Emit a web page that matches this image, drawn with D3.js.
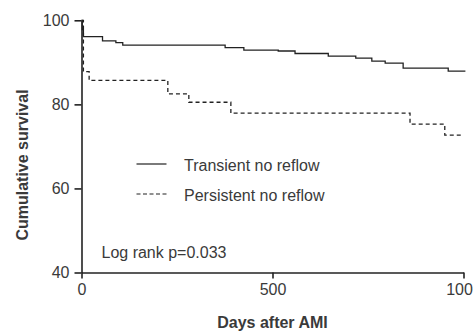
<!DOCTYPE html>
<html>
<head>
<meta charset="utf-8">
<script src="https://cdn.jsdelivr.net/npm/d3@7"></script>
<style>
  body { margin: 0; background: #fff; }
  svg { display: block; font-family: 'Liberation Sans', Arial, sans-serif; }
</style>
</head>
<body>
<div id="chart"></div>
<script>
// Kaplan-Meier steps
const transientDays = [0, 2, 5, 55, 90, 108, 376, 425, 515, 559, 646, 718, 760, 795, 842, 960, 1005];
const transientSurv = [100, 97.8, 96.1, 95.1, 94.7, 94.1, 93.5, 92.9, 92.7, 92.1, 91.5, 91.0, 90.3, 89.8, 88.6, 87.9, 87.9];

const persistentDays = [0, 5, 20, 226, 281, 391, 860, 951, 1000];
const persistentSurv = [100, 87.8, 85.7, 82.5, 80.5, 77.9, 75.3, 72.7, 72.7];

const xTicks = [0, 500, 1000];
const yTicks = [40, 60, 80, 100];
const seriesNames = ['Transient no reflow', 'Persistent no reflow'];
const pValueText = 'Log rank p=0.033';

const W = 473, H = 331;
const margin = { top: 20.3, right: 9.5, bottom: 58.5, left: 81.5 };

const svg = d3.select('#chart').append('svg')
  .attr('width', W)
  .attr('height', H);

const x = d3.scaleLinear().domain([0, 1000]).range([margin.left, W - margin.right]);
const y = d3.scaleLinear().domain([40, 100]).range([H - margin.bottom, margin.top]);

const ink = '#222';
const textCol = '#3a3a3a';

// Axes
svg.append('g')
  .attr('transform', `translate(0,${y(40)})`)
  .call(d3.axisBottom(x).tickValues(xTicks).tickFormat(d3.format('d'))
    .tickSize(6).tickPadding(5).tickSizeOuter(0));

svg.append('g')
  .attr('transform', `translate(${x(0)},0)`)
  .call(d3.axisLeft(y).tickValues(yTicks).tickFormat(d3.format('d'))
    .tickSize(7).tickPadding(5).tickSizeOuter(0));

svg.selectAll('.domain, .tick line').attr('stroke', ink).attr('stroke-width', 1.6);
svg.selectAll('.tick text').attr('fill', textCol).attr('font-size', '16px')
  .attr('font-family', "'Liberation Sans', Arial, sans-serif");

// Survival curves
const line = d3.line()
  .x((d) => x(d[0]))
  .y((d) => y(d[1]))
  .curve(d3.curveStepAfter);

const transient = transientDays.map((d, i) => [d, transientSurv[i]]);
const persistent = persistentDays.map((d, i) => [d, persistentSurv[i]]);

svg.append('path')
  .datum(transient)
  .attr('d', line)
  .attr('fill', 'none')
  .attr('stroke', ink)
  .attr('stroke-width', 1.3);

svg.append('path')
  .datum(persistent)
  .attr('d', line)
  .attr('fill', 'none')
  .attr('stroke', ink)
  .attr('stroke-width', 1.3)
  .attr('stroke-dasharray', '4,3');

// Legend
const legend = svg.append('g');
const legendY = [164, 194];
seriesNames.forEach((name, i) => {
  legend.append('line')
    .attr('x1', 136.5).attr('x2', 166.5)
    .attr('y1', legendY[i]).attr('y2', legendY[i])
    .attr('stroke', ink)
    .attr('stroke-width', 1.2)
    .attr('stroke-dasharray', i === 1 ? '4,2.5' : null);
  legend.append('text')
    .attr('x', 184)
    .attr('y', legendY[i] + 6.5)
    .attr('fill', textCol)
    .attr('font-size', '16px')
    .text(name);
});

svg.append('text')
  .attr('x', 101.5)
  .attr('y', 258)
  .attr('fill', textCol)
  .attr('font-size', '16px')
  .text(pValueText);

// Axis titles
svg.append('text')
  .attr('x', (x(0) + x(1000)) / 2)
  .attr('y', 328)
  .attr('text-anchor', 'middle')
  .attr('fill', textCol)
  .attr('font-size', '16px')
  .attr('font-weight', 'bold')
  .text('Days after AMI');

svg.append('text')
  .attr('transform', 'rotate(-90)')
  .attr('x', -165)
  .attr('y', 28)
  .attr('text-anchor', 'middle')
  .attr('fill', textCol)
  .attr('font-size', '16px')
  .attr('font-weight', 'bold')
  .text('Cumulative survival');
</script>
</body>
</html>
